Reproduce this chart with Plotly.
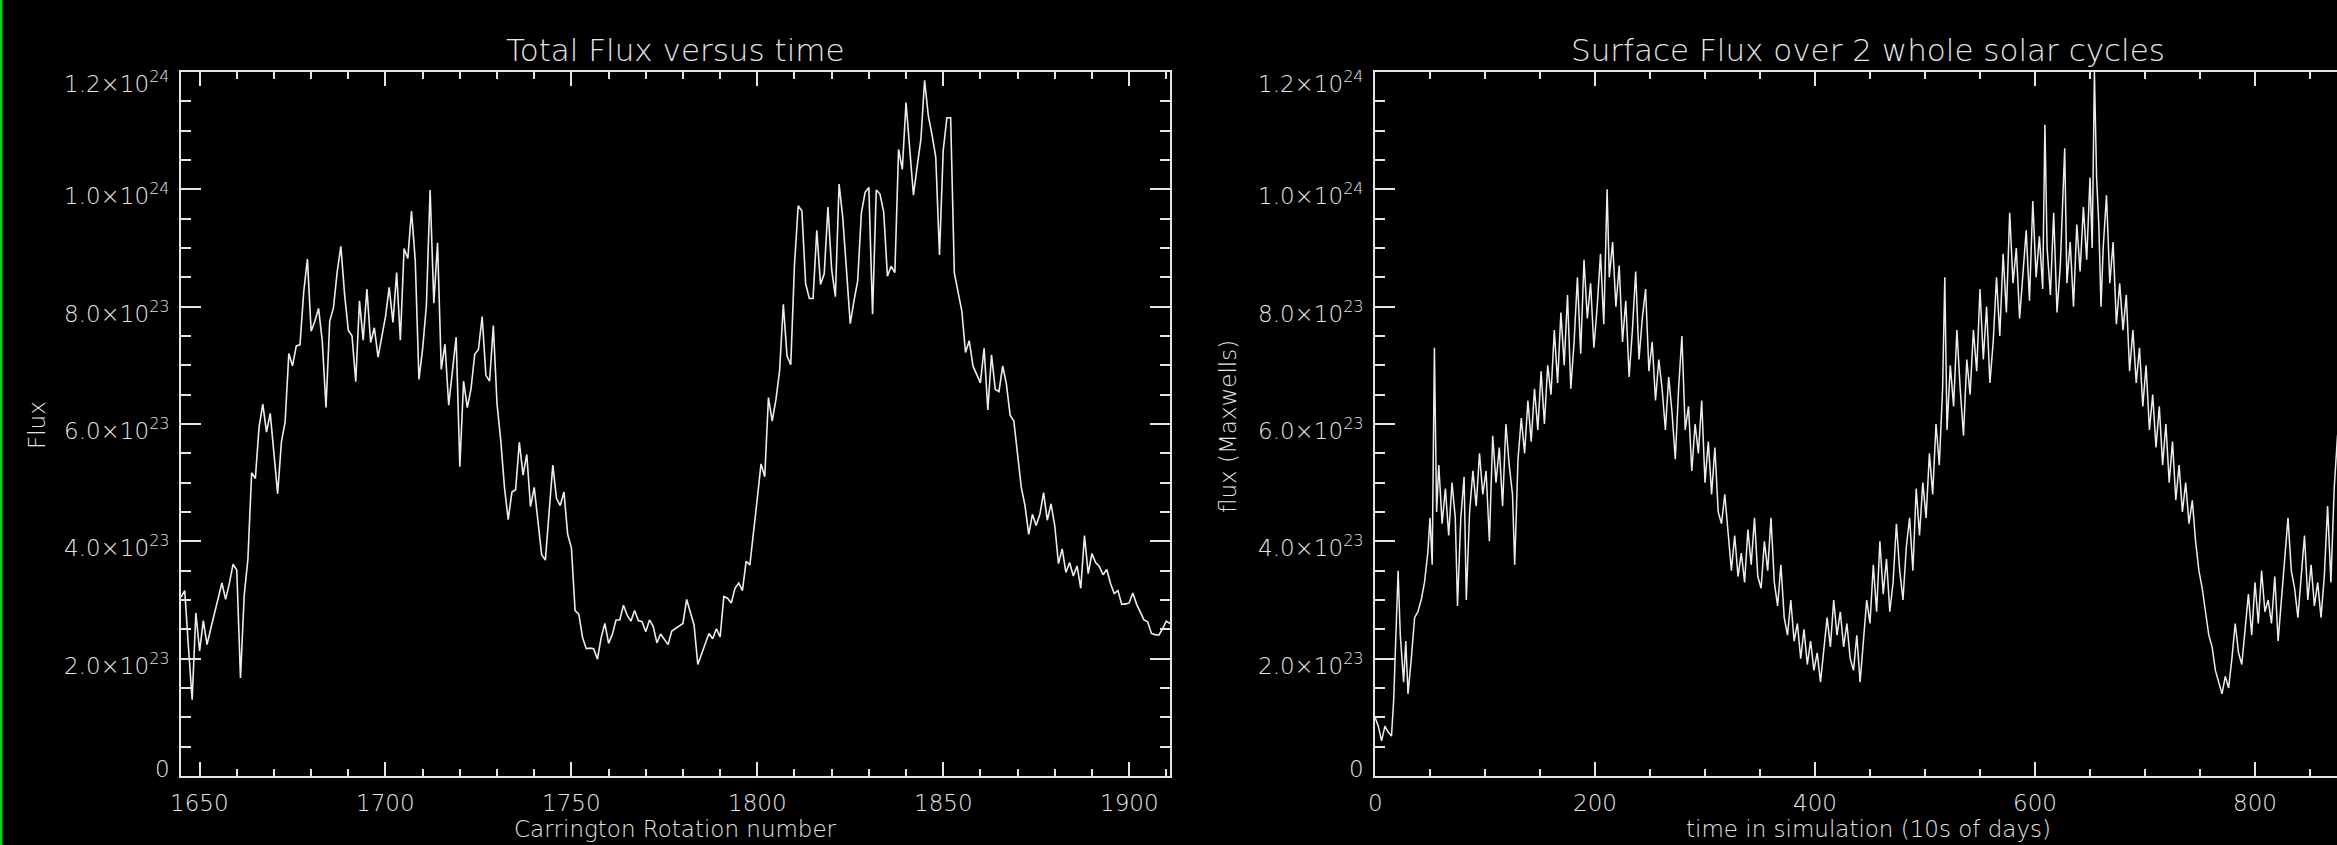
import plotly.graph_objects as go

W, H = 2337, 845

# ---------------- Left panel data (Carrington rotation vs total flux, units of 1e23) -------------
cr_start = 1645
left_flux_e23 = [
    3.05, 3.16, 2.20, 1.30, 2.78, 2.13, 2.65, 2.24, 2.51, 2.78, 3.05, 3.29, 3.01, 3.28, 3.61, 3.51,
    1.67, 3.08, 3.70, 5.17, 5.07, 5.95, 6.34, 5.86, 6.18, 5.49, 4.81, 5.69, 6.03, 7.20, 6.99, 7.33,
    7.35, 8.25, 8.81, 7.58, 7.75, 7.97, 7.41, 6.28, 7.75, 7.98, 8.59, 9.03, 8.21, 7.60, 7.50, 6.72,
    8.10, 7.43, 8.30, 7.39, 7.64, 7.14, 7.48, 7.83, 8.33, 7.73, 8.58, 7.43, 8.99, 8.82, 9.63, 8.79,
    6.76, 7.29, 8.02, 9.99, 8.06, 9.09, 6.93, 7.36, 6.32, 6.95, 7.48, 5.27, 6.73, 6.28, 6.60, 7.19,
    7.27, 7.83, 6.83, 6.73, 7.68, 6.34, 5.72, 4.92, 4.37, 4.84, 4.88, 5.69, 5.13, 5.48, 4.59, 4.92,
    4.35, 3.77, 3.68, 4.42, 5.30, 4.73, 4.61, 4.84, 4.12, 3.89, 2.82, 2.76, 2.36, 2.17, 2.18, 2.17,
    1.99, 2.36, 2.60, 2.26, 2.41, 2.66, 2.66, 2.91, 2.74, 2.64, 2.82, 2.65, 2.63, 2.46, 2.66, 2.55,
    2.27, 2.42, 2.34, 2.24, 2.47, 2.51, 2.56, 2.60, 3.01, 2.78, 2.57, 1.90, 2.09, 2.27, 2.43, 2.34,
    2.51, 2.37, 3.06, 3.03, 2.95, 3.20, 3.29, 3.16, 3.66, 3.60, 4.12, 4.73, 5.32, 5.10, 6.45, 6.05,
    6.41, 6.91, 8.04, 7.16, 7.01, 8.71, 9.72, 9.63, 8.39, 8.14, 8.14, 9.30, 8.38, 8.56, 9.70, 8.63,
    8.17, 10.09, 9.51, 8.56, 7.71, 8.10, 8.44, 9.60, 9.95, 10.03, 7.87, 9.99, 9.92, 9.61, 8.52, 8.69,
    8.58, 10.68, 10.34, 11.48, 10.66, 9.90, 10.39, 10.85, 11.86, 11.25, 10.93, 10.55, 8.88, 10.66,
    11.22, 11.22, 8.57, 8.25, 7.93, 7.22, 7.42, 6.99, 6.83, 6.70, 7.29, 6.24, 7.18, 6.59, 6.55,
    6.99, 6.68, 6.15, 6.05, 5.49, 4.92, 4.61, 4.12, 4.46, 4.27, 4.46, 4.83, 4.36, 4.64, 4.27, 3.62,
    3.87, 3.47, 3.64, 3.41, 3.58, 3.20, 4.10, 3.45, 3.79, 3.64, 3.57, 3.43, 3.52, 3.28, 3.11, 3.16,
    2.93, 2.93, 2.95, 3.12, 2.93, 2.78, 2.66, 2.63, 2.43, 2.41, 2.40, 2.51, 2.64, 2.60,
]
left_cr = list(range(cr_start, cr_start + len(left_flux_e23)))
left_flux = [v * 1e23 for v in left_flux_e23]

# ---------------- Right panel data (simulation time vs flux, units of 1e23) ----------------------
right_t = [
    0, 3, 6, 9, 12, 15, 17, 19, 21, 23, 26, 28, 30, 33, 36, 39, 42, 45, 48, 50, 52, 54, 56, 58, 61,
    64, 67, 70, 73, 75, 78, 81, 83, 86, 89, 92, 95, 98, 101, 104, 107, 110, 113, 116, 119, 122, 125,
    127, 130, 133, 136, 139, 142, 145, 148, 151, 154, 157, 160, 163, 166, 169, 172, 175, 178, 181,
    184, 187, 190, 193, 196, 199, 202, 205, 208, 211, 213, 216, 219, 222, 225, 228, 231, 234, 237,
    240, 243, 246, 249, 252, 255, 258, 261, 264, 267, 270, 273, 276, 279, 282, 285, 288, 291, 294,
    297, 300, 303, 306, 309, 312, 315, 318, 321, 324, 327, 330, 333, 336, 339, 342, 345, 348, 351,
    354, 357, 360, 363, 366, 369, 372, 375, 378, 381, 384, 387, 390, 393, 396, 399, 402, 405, 408,
    411, 414, 417, 420, 423, 426, 429, 432, 435, 438, 441, 444, 447, 450, 453, 456, 459, 462, 465,
    468, 471, 474, 477, 480, 483, 486, 489, 492, 495, 498, 501, 504, 507, 510, 513, 516, 518, 520,
    523, 526, 529, 532, 535, 538, 541, 544, 547, 550, 553, 556, 559, 562, 565, 568, 571, 574, 577,
    580, 583, 586, 589, 592, 595, 598, 601, 604, 607, 609, 611, 614, 617, 620, 623, 627, 629, 632,
    635, 638, 641, 644, 647, 650, 652, 654, 656, 658, 660, 662, 665, 668, 671, 674, 677, 680, 683,
    686, 689, 692, 695, 698, 701, 704, 707, 710, 713, 716, 719, 722, 725, 728, 731, 734, 737, 740,
    743, 746, 749, 752, 755, 758, 761, 764, 767, 770, 773, 776, 779, 782, 785, 788, 791, 794, 797,
    800, 803, 806, 809, 812, 815, 818, 821, 824, 827, 830, 833, 836, 839, 842, 845, 848, 851, 854,
    857, 860, 863, 866, 869, 872, 875, 880,
]
right_flux_e23 = [
    1.0, 0.85, 0.6, 0.85, 0.75, 0.68, 1.3, 2.3, 3.5, 2.4, 1.6, 2.3, 1.4, 2.0, 2.7, 2.8, 3.0, 3.3,
    3.8, 4.4, 3.6, 7.3, 4.5, 5.3, 4.3, 4.9, 4.1, 5.0, 4.4, 2.9, 4.4, 5.1, 3.0, 4.5, 5.2, 4.6, 5.5,
    4.8, 5.2, 4.0, 5.8, 5.0, 5.6, 4.6, 6.0, 5.3, 4.8, 3.6, 5.4, 6.1, 5.5, 6.4, 5.7, 6.6, 5.9, 6.9,
    6.0, 7.0, 6.5, 7.6, 6.7, 7.9, 7.0, 8.2, 6.6, 7.4, 8.5, 7.2, 8.8, 7.8, 8.4, 7.3, 8.0, 8.9, 7.7,
    10.0, 8.5, 9.1, 8.0, 8.7, 7.4, 8.1, 6.8, 7.6, 8.6, 7.1, 7.8, 8.3, 6.9, 7.4, 6.4, 7.1, 6.6, 5.9,
    6.8, 6.2, 5.4, 6.6, 7.5, 5.9, 6.3, 5.2, 6.0, 5.5, 6.4, 5.0, 5.7, 4.8, 5.6, 4.5, 4.3, 4.8, 4.1,
    3.5, 4.1, 3.4, 3.8, 3.3, 4.2, 3.6, 4.4, 3.4, 3.2, 4.0, 3.5, 4.4, 3.3, 2.9, 3.6, 2.7, 2.4, 3.0,
    2.3, 2.6, 2.0, 2.5, 1.9, 2.3, 1.8, 2.1, 1.6, 2.2, 2.7, 2.2, 3.0, 2.4, 2.8, 2.2, 2.6, 2.0, 1.8,
    2.4, 1.6, 2.3, 3.0, 2.6, 3.6, 2.8, 4.0, 3.1, 3.7, 2.8, 3.3, 4.3, 3.5, 3.0, 3.9, 4.4, 3.5, 4.9,
    4.1, 5.0, 4.4, 5.5, 4.8, 6.0, 5.3, 6.6, 8.5, 5.9, 7.0, 6.3, 7.6, 6.6, 5.8, 7.1, 6.5, 7.6, 6.9,
    8.3, 7.1, 8.0, 6.7, 7.4, 8.5, 7.5, 8.9, 7.9, 9.6, 8.4, 9.0, 7.8, 8.6, 9.3, 8.1, 9.8, 8.5, 9.2,
    8.3, 11.1, 9.0, 8.2, 9.6, 7.9, 8.7, 10.7, 8.4, 9.1, 8.0, 9.4, 8.6, 9.7, 8.8, 10.2, 9.0, 12.0,
    10.2, 9.4, 8.0, 9.0, 9.9, 8.4, 9.1, 7.7, 8.4, 7.6, 8.2, 6.9, 7.6, 6.7, 7.3, 6.3, 7.0, 5.9, 6.5,
    5.6, 6.3, 5.3, 6.0, 5.0, 5.7, 4.7, 5.3, 4.5, 5.0, 4.3, 4.7, 4.0, 3.5, 3.2, 2.8, 2.4, 2.2, 1.8,
    1.6, 1.4, 1.7, 1.5, 2.0, 2.6, 2.1, 1.9, 2.5, 3.1, 2.4, 3.3, 2.6, 3.5, 2.8, 3.0, 2.6, 3.4, 2.3,
    3.0, 3.6, 4.4, 3.5, 3.2, 2.7, 3.4, 4.1, 3.0, 3.6, 2.9, 3.3, 2.7, 3.4, 4.6, 3.3, 4.9, 5.8, 6.2,
]
right_flux = [v * 1e23 for v in right_flux_e23]

# ---------------- Tick labels ----------------
y_tickvals = [0, 2e23, 4e23, 6e23, 8e23, 1.0e24, 1.2e24]
y_ticktext = ["0", "2.0×10<sup>23</sup>", "4.0×10<sup>23</sup>", "6.0×10<sup>23</sup>",
              "8.0×10<sup>23</sup>", "1.0×10<sup>24</sup>", "1.2×10<sup>24</sup>"]
y_label_shift = [7, -5, -5, -5, -5, -5, -10]
left_x_tickvals = [1650, 1700, 1750, 1800, 1850, 1900]
right_x_tickvals = [0, 200, 400, 600, 800]

FG = "#e4e4e4"
LINE = "#ececec"
FONT = "DejaVu Sans"
WT = 200
TICK_SIZE = 23

def px(x):
    return x / W

def py(y):
    return 1 - y / H

L0, L1 = 181, 1170
R0 = 1375
TOP, BOT = 72, 776

fig = go.Figure()
fig.add_trace(go.Scatter(x=left_cr, y=left_flux, mode="lines",
                         line=dict(color=LINE, width=1.6), xaxis="x", yaxis="y",
                         showlegend=False, hoverinfo="skip"))
fig.add_trace(go.Scatter(x=right_t, y=right_flux, mode="lines",
                         line=dict(color=LINE, width=1.5), xaxis="x2", yaxis="y2",
                         showlegend=False, hoverinfo="skip"))

axis_common = dict(showgrid=False, zeroline=False, showline=True, linecolor=FG, linewidth=1.5,
                   ticks="inside", tickcolor=FG, tickwidth=1.5, showticklabels=False)

fig.update_layout(
    width=W, height=H, margin=dict(l=0, r=0, t=0, b=0, autoexpand=False),
    paper_bgcolor="black", plot_bgcolor="black", showlegend=False,
    xaxis=dict(domain=[px(L0), px(L1)], range=[1645, 1911], anchor="y",
               tickvals=left_x_tickvals, ticklen=14, mirror="allticks",
               minor=dict(dtick=10, tick0=1650, ticklen=7, ticks="inside", tickcolor=FG, tickwidth=1.5),
               **axis_common),
    yaxis=dict(domain=[py(BOT), py(TOP)], range=[0, 1.2e24], anchor="x",
               tickvals=y_tickvals, ticklen=20, mirror="allticks",
               minor=dict(dtick=5e22, tick0=0, ticklen=10, ticks="inside", tickcolor=FG, tickwidth=1.5),
               **axis_common),
    xaxis2=dict(domain=[px(R0), 1.0], range=[0, (W - R0) / 1.1], anchor="y2",
                tickvals=right_x_tickvals, ticklen=14, mirror="allticks",
                minor=dict(dtick=50, tick0=0, ticklen=7, ticks="inside", tickcolor=FG, tickwidth=1.5),
                **axis_common),
    yaxis2=dict(domain=[py(BOT), py(TOP)], range=[0, 1.2e24], anchor="x2",
                tickvals=y_tickvals, ticklen=20, mirror=False,
                minor=dict(dtick=5e22, tick0=0, ticklen=10, ticks="inside", tickcolor=FG, tickwidth=1.5),
                **axis_common),
)

def ann(text, x, y, size, angle=0):
    fig.add_annotation(text=text, x=px(x), y=py(y), xref="paper", yref="paper",
                       showarrow=False, textangle=angle, xanchor="center", yanchor="middle",
                       font=dict(family=FONT, size=size, color=FG, weight=WT))

# tick labels positioned through the axes' own scales
for yref, xlab in (("y", 172), ("y2", 1366)):
    for v, t, s in zip(y_tickvals, y_ticktext, y_label_shift):
        fig.add_annotation(text=t, x=px(xlab), xref="paper", y=v, yref=yref, yshift=s,
                           showarrow=False, xanchor="right", yanchor="middle",
                           font=dict(family=FONT, size=TICK_SIZE, color=FG, weight=WT))
for xref, vals in (("x", left_x_tickvals), ("x2", right_x_tickvals)):
    for v in vals:
        fig.add_annotation(text=str(v), x=v, xref=xref, y=py(803), yref="paper",
                           showarrow=False, xanchor="center", yanchor="middle",
                           font=dict(family=FONT, size=TICK_SIZE, color=FG, weight=WT))

ann("Total Flux versus time", (L0 + L1) / 2, 50, 31)
ann("Surface Flux over 2 whole solar cycles", 1868, 50, 31)
ann("Carrington Rotation number", (L0 + L1) / 2, 829, 23)
ann("time in simulation (10s of days)", 1868, 829, 23)
ann("Flux", 37, 425, 23, -90)
ann("flux (Maxwells)", 1228, 427, 23, -90)

# green window-border artefact on the left edge
fig.add_shape(type="rect", xref="paper", yref="paper", x0=0, x1=px(2.5), y0=0, y1=1,
              fillcolor="#00e000", line=dict(width=0), layer="above")

fig.write_html(
    "out.html",
    config=dict(displayModeBar=False),
    post_script=("document.documentElement.style.margin='0';document.body.style.margin='0';"
                 "document.documentElement.style.overflow='hidden';document.body.style.overflow='hidden';"),
)
